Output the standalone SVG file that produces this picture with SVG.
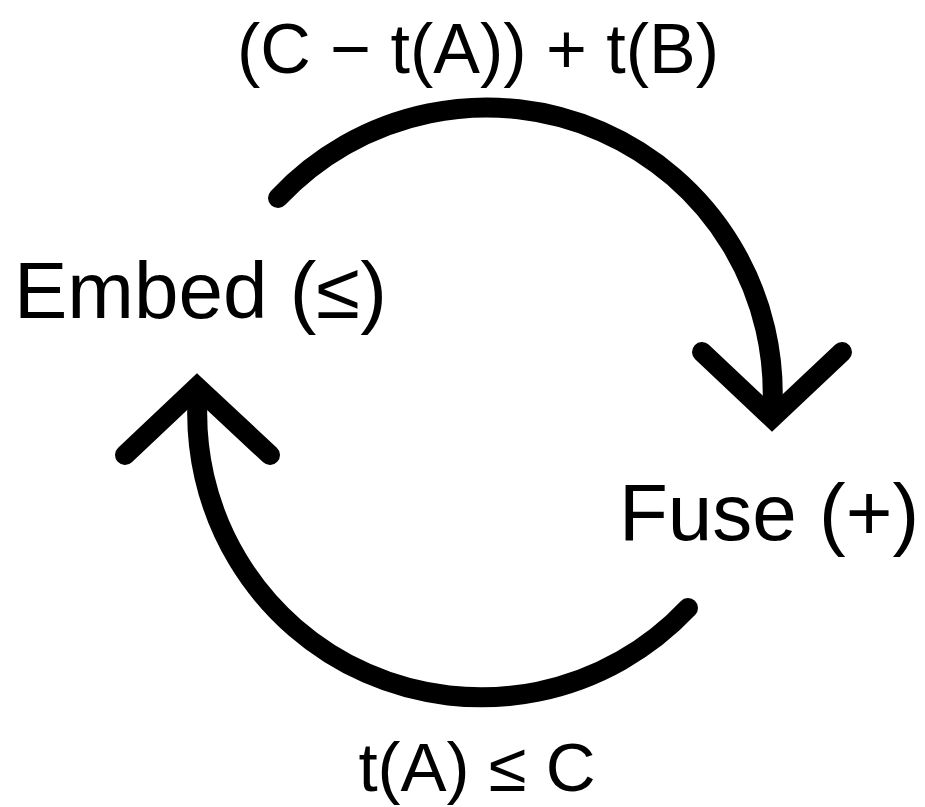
<svg xmlns="http://www.w3.org/2000/svg" width="925" height="807" viewBox="0 0 925 807">
  <style>
    .lbl { font-family: "Liberation Sans", Arial, sans-serif; fill: #000; }
    .stroke { fill: none; stroke: #000; stroke-width: 20; stroke-linecap: round; stroke-linejoin: miter; }
  </style>
  <rect width="925" height="807" fill="#fff"/>
  <g id="connectors">
    <g id="edge-embed-fuse">
      <path class="stroke" d="M 278 198 A 286 286 0 0 1 772 414"/>
      <path class="stroke" d="M 702 352 L 772 418 L 842 352"/>
      <text class="lbl" x="478" y="73" font-size="70" text-anchor="middle">(C − t(A)) + t(B)</text>
    </g>
    <g id="edge-fuse-embed">
      <path class="stroke" d="M 688 608 A 284 284 0 0 1 198 392"/>
      <path class="stroke" d="M 125 455 L 197 387 L 270 455"/>
      <text class="lbl" x="477" y="791" font-size="69" text-anchor="middle">t(A) ≤ C</text>
    </g>
  </g>
  <g id="node-embed">
    <text class="lbl" x="14" y="318" font-size="80">Embed (≤)</text>
  </g>
  <g id="node-fuse">
    <text class="lbl" x="619" y="540" font-size="80">Fuse (+)</text>
  </g>
</svg>
